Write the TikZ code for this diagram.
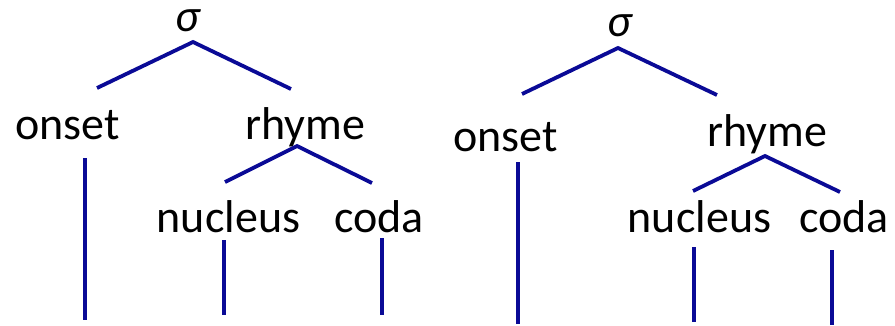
\documentclass[tikz,border=0pt]{standalone}
\usepackage{fontspec}
\setmainfont{Carlito}
\definecolor{treeblue}{RGB}{10,10,150}
\tikzset{
  lab/.style={anchor=base, inner sep=0pt, font=\fontsize{46}{46}\selectfont, text=black},
  sig/.style={anchor=base, inner sep=0pt, text height=20pt, font=\fontsize{46}{46}\selectfont\itshape, text=black},
  branch/.style={draw=treeblue, line width=3.8pt, line cap=butt, line join=miter}
}
\begin{document}
\begin{tikzpicture}[x=1pt,y=-1pt]
\useasboundingbox (0,0) rectangle (895,325);
% ---- left tree ----
\node[sig] (s1) at (188,31) {σ};
\node[lab] (o1) at (67.5,139) {onset};
\node[lab] (r1) at (305,139) {rhyme};
\node[lab] (n1) at (228.5,232) {nucleus};
\node[lab] (c1) at (379,232) {coda};
\coordinate (s1a) at (193,42);
\coordinate (s1l) at (97,88);
\coordinate (s1r) at (291,89);
\coordinate (r1a) at (297,146);
\coordinate (r1l) at (225,182);
\coordinate (r1r) at (372,183);
\coordinate (o1t) at (85,158);
\coordinate (o1b) at (85,320);
\coordinate (n1t) at (224,240);
\coordinate (n1b) at (224,315);
\coordinate (c1t) at (382,238);
\coordinate (c1b) at (382,315);
\draw[branch] (s1l) -- (s1a) -- (s1r);
\draw[branch] (r1l) -- (r1a) -- (r1r);
\draw[branch] (o1t) -- (o1b);
\draw[branch] (n1t) -- (n1b);
\draw[branch] (c1t) -- (c1b);
% ---- right tree ----
\node[sig] (s2) at (620,36) {σ};
\node[lab] (o2) at (505.5,151) {onset};
\node[lab] (r2) at (767,146) {rhyme};
\node[lab] (n2) at (699.5,232) {nucleus};
\node[lab] (c2) at (844,232) {coda};
\coordinate (s2a) at (618,48);
\coordinate (s2l) at (522,94);
\coordinate (s2r) at (717,95);
\coordinate (r2a) at (765,156);
\coordinate (r2l) at (693,191);
\coordinate (r2r) at (840,192);
\coordinate (o2t) at (518,162);
\coordinate (o2b) at (518,324);
\coordinate (n2t) at (694,247);
\coordinate (n2b) at (694,322);
\coordinate (c2t) at (832,250);
\coordinate (c2b) at (832,325);
\draw[branch] (s2l) -- (s2a) -- (s2r);
\draw[branch] (r2l) -- (r2a) -- (r2r);
\draw[branch] (o2t) -- (o2b);
\draw[branch] (n2t) -- (n2b);
\draw[branch] (c2t) -- (c2b);
\end{tikzpicture}
\end{document}
